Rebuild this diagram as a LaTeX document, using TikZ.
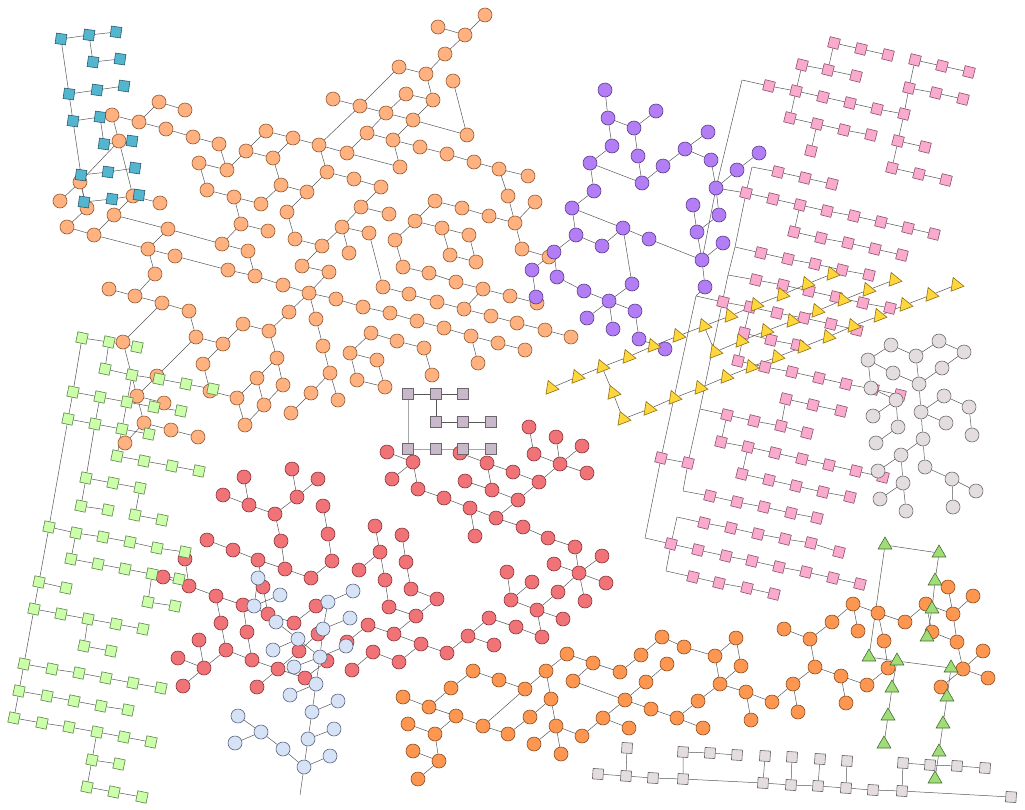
\documentclass[tikz,border=0pt]{standalone}
\usetikzlibrary{shapes.geometric,backgrounds}
\definecolor{peachF}{RGB}{255,178,127}\definecolor{peachD}{RGB}{150,90,50}
\definecolor{tealF}{RGB}{84,182,206}\definecolor{tealD}{RGB}{40,90,110}
\definecolor{purpF}{RGB}{178,125,245}\definecolor{purpD}{RGB}{90,60,140}
\definecolor{pinkF}{RGB}{250,170,205}\definecolor{pinkD}{RGB}{140,80,110}
\definecolor{yelF}{RGB}{255,215,60}\definecolor{yelD}{RGB}{140,110,20}
\definecolor{greyF}{RGB}{228,221,224}\definecolor{greyD}{RGB}{110,105,108}
\definecolor{redF}{RGB}{240,115,120}\definecolor{redD}{RGB}{140,50,55}
\definecolor{blueF}{RGB}{214,226,245}\definecolor{blueD}{RGB}{90,100,130}
\definecolor{orngF}{RGB}{252,150,80}\definecolor{orngD}{RGB}{140,75,30}
\definecolor{gtriF}{RGB}{160,220,120}\definecolor{gtriD}{RGB}{70,110,50}
\definecolor{lgrF}{RGB}{204,255,170}\definecolor{lgrD}{RGB}{90,130,70}
\definecolor{mauveF}{RGB}{200,185,200}\definecolor{mauveD}{RGB}{110,100,110}
\begin{document}
\begin{tikzpicture}[x=1pt,y=-1pt,
  dot/.style={circle,inner sep=0pt,minimum size=14pt,line width=0.6pt},
  box/.style={rectangle,inner sep=0pt,minimum size=10.5pt,line width=0.6pt},
  tri/.style={regular polygon,regular polygon sides=3,inner sep=0pt,minimum size=16pt,line width=0.6pt},
  peach/.style={dot,draw=peachD,fill=peachF},
  redc/.style={dot,draw=redD,fill=redF},
  bluec/.style={dot,draw=blueD,fill=blueF},
  purpc/.style={dot,draw=purpD,fill=purpF},
  greyc/.style={dot,draw=greyD,fill=greyF},
  orngc/.style={dot,draw=orngD,fill=orngF},
  tealsq/.style={box,draw=tealD,fill=tealF,rotate=-8},
  pinksq/.style={box,draw=pinkD,fill=pinkF,rotate=-14},
  lgrsq/.style={box,draw=lgrD,fill=lgrF,rotate=-12},
  greysq/.style={box,draw=greyD,fill=greyF,rotate=-4},
  mauvesq/.style={box,draw=mauveD,fill=mauveF},
  yeltri/.style={tri,draw=yelD,fill=yelF,shape border rotate=21},
  grntri/.style={tri,draw=gtriD,fill=gtriF},
  link/.style={draw=black!66,line width=0.5pt},
  palelink/.style={draw=black!35,line width=0.9pt}]
\useasboundingbox (0,0) rectangle (1025,809);

\foreach \n/\x/\y in {1/112/115, 2/159/102, 3/185/110, 4/139/122, 5/166/129, 6/193/137, 7/219/144, 8/119/141, 9/199/163, 10/227/170, 11/246/151, 12/266/131, 13/293/138, 14/273/158, 15/319/145, 16/333/99, 17/327/172, 18/207/190, 19/234/197, 20/261/204, 21/281/185, 22/307/192, 23/287/212, 24/80/182, 25/60/201, 26/87/208, 27/133/196, 28/160/203, 29/114/215, 30/67/227, 31/94/235, 32/168/229, 33/241/224, 34/268/231, 35/222/244, 36/248/251, 37/295/239, 38/322/246, 39/148/249, 40/175/256, 41/228/270, 42/255/276, 43/155/274, 44/302/266, 45/329/272, 46/342/227,
  50/485/15, 51/438/27, 52/465/35, 53/445/54, 54/399/67, 55/426/74, 56/453/81, 57/406/94, 58/433/100, 59/360/106, 60/386/113, 61/413/120, 62/467/135, 63/367/133, 64/393/140, 65/420/147, 66/447/154, 67/474/162, 68/499/169, 69/528/176, 70/347/153, 71/400/167, 72/354/179, 73/381/187, 74/508/196, 75/535/202, 76/361/207, 77/389/214, 78/435/201, 79/462/208, 80/489/216, 81/515/223, 82/369/233, 83/415/221, 84/442/228, 85/469/235, 86/349/253, 87/395/240, 88/522/249, 89/549/257, 90/403/267, 91/429/273, 92/450/255, 93/476/262,
  100/109/289, 101/135/296, 102/162/303, 103/189/311, 104/196/337, 105/223/344, 106/243/324, 107/269/331, 108/283/285, 109/309/293, 110/336/299, 111/289/312, 112/316/319, 113/323/346, 114/330/373, 115/311/393, 116/291/413, 117/338/400, 118/277/358, 119/283/385, 120/257/378, 121/264/405, 122/237/398, 123/245/425, 124/203/364, 125/210/391, 126/123/342, 127/157/376, 128/137/396, 129/164/403, 130/144/423, 131/171/430, 132/198/437, 133/125/443,
  140/383/287, 141/456/282, 142/483/289, 143/510/296, 144/537/303, 145/409/294, 146/437/302, 147/464/309, 148/491/316, 149/517/323, 150/545/330, 151/571/337, 152/363/307, 153/390/313, 154/417/321, 155/444/328, 156/471/336, 157/498/343, 158/525/350, 159/478/363, 160/371/333, 161/397/341, 162/424/348, 163/432/375, 164/350/353, 165/377/360, 166/357/380, 167/385/387}
  \node[peach] (p\n) at (\x,\y) {};

\foreach \n/\x/\y in {1/244/477, 2/223/495, 3/249/505, 4/292/469, 5/318/479, 6/297/497, 7/275/514, 8/323/506, 9/328/534, 10/281/541, 11/207/540, 13/233/550, 14/258/560, 16/285/569, 17/311/578, 18/332/561, 20/185/559, 21/163/577, 22/189/586, 23/216/596, 24/263/587, 25/243/605, 26/268/614, 27/221/623, 28/247/632, 29/294/623, 30/316/606, 31/199/640, 32/226/650, 33/299/651, 34/318/634, 35/178/658, 36/204/668, 37/252/660, 38/278/669, 39/327/661, 40/305/678, 41/183/686, 42/257/687,
  43/380/552, 45/406/562, 46/359/570, 47/385/580, 48/411/589, 49/437/599, 50/389/607, 51/416/616, 52/368/625, 53/394/634, 54/421/644, 55/347/642, 56/373/652, 57/399/662, 58/352/670, 59/447/653, 60/468/636, 61/489/618, 62/516/627, 63/494/645, 64/542/637, 65/507/572, 66/532/582, 67/511/600, 68/537/610, 69/563/619, 70/558/592, 71/579/573, 72/554/564, 73/575/547, 74/548/538, 75/602/556, 76/606/583, 77/585/601,
  78/387/452, 79/413/462, 80/392/479, 81/418/489, 82/444/498, 83/470/508, 84/496/518, 85/475/536, 86/523/527, 89/460/453, 90/487/463, 91/513/472, 92/539/482, 93/465/481, 94/492/490, 95/518/500, 96/529/427, 97/534/454, 98/560/464, 99/556/437, 100/582/446, 101/587/473, 102/375/526, 103/402/535}
  \node[redc] (r\n) at (\x,\y) {};

\foreach \n/\x/\y in {1/258/578, 2/280/595, 3/254/606, 4/276/622, 5/298/639, 6/273/650, 7/328/602, 8/323/629, 9/320/657, 10/294/667, 11/316/684, 12/290/695, 13/338/701, 14/312/712, 15/334/729, 16/308/739, 17/330/756, 18/304/767, 19/238/716, 20/261/732, 21/235/743, 22/283/749, 23/353/591, 24/350/618, 25/346/646}
  \node[bluec] (b\n) at (\x,\y) {};
\coordinate (bx) at (300,795);

\foreach \n/\x/\y in {1/408/394, 2/436/394, 3/463/394, 4/436/422, 5/463/422, 6/491/422, 7/408/449, 8/436/449, 9/463/449, 10/491/449}
  \node[mauvesq] (s\n) at (\x,\y) {};

\foreach \n/\x/\y in {1/61/39, 2/89/35, 3/116/32, 4/93/62, 5/120/59, 6/69/94, 7/97/90, 8/124/86, 9/73/121, 10/100/117, 11/104/144, 12/132/141, 13/81/175, 14/108/172, 15/135/168, 16/84/202, 17/112/199, 18/139/195}
  \node[tealsq] (t\n) at (\x,\y) {};

\foreach \n/\x/\y in {1/82/338, 2/109/342, 3/137/347, 4/105/369, 5/132/375, 6/159/379, 7/186/384, 8/213/389, 9/73/392, 10/100/397, 11/127/402, 12/154/407, 13/181/411, 14/68/419, 15/95/424, 16/122/429, 17/149/434, 18/117/456, 19/144/461, 20/172/466, 21/199/471, 22/86/478, 23/113/483, 24/140/488, 25/81/506, 26/108/510, 27/135/515, 28/162/520, 29/49/527, 30/76/533, 31/103/537, 32/130/542, 36/157/548, 37/185/552, 38/71/559, 39/98/564, 40/125/569, 41/152/574, 42/179/579, 43/39/582, 44/66/588, 45/148/602, 46/175/606, 47/34/609, 48/61/614, 49/88/619, 50/116/624, 51/143/629, 52/84/646, 53/111/651, 54/24/664, 55/52/669, 56/79/673, 57/106/678, 58/133/683, 59/161/688, 60/19/691, 61/47/696, 62/74/701, 63/101/706, 64/128/710, 65/14/718, 66/42/723, 67/69/727, 68/97/732, 69/124/737, 70/151/742, 71/92/760, 72/119/764, 73/87/787, 74/114/792, 75/142/797}
  \node[lgrsq] (l\n) at (\x,\y) {};

\foreach \n/\x/\y in {1/605/90, 2/608/118, 3/656/111, 4/634/128, 5/612/146, 6/638/156, 7/590/163, 8/663/166, 9/685/149, 10/642/183, 11/594/191, 12/572/208, 13/623/228, 14/649/239, 15/576/235, 16/602/246, 17/554/252, 18/532/270, 19/557/277, 20/708/132, 21/711/160, 22/759/153, 23/737/170, 24/716/188, 25/693/205, 26/719/215, 27/697/232, 28/723/243, 29/702/260, 30/536/297, 31/584/291, 32/609/301, 33/632/284, 34/587/318, 35/613/329, 36/635/311, 37/639/339, 38/665/349, 39/705/287}
  \node[purpc] (u\n) at (\x,\y) {};

\foreach \n/\x/\y in {k1/834/43, k2/861/49, k3/888/55, k4/802/65, k5/828/70, k6/856/76, k7/769/86, k8/796/91, k9/823/97, k10/850/103, k11/877/109, k12/904/114, k13/790/118, k14/817/124, k15/844/130, k16/871/135, k17/811/151, k18/915/60, k19/942/66, k20/969/72, k21/909/88, k22/936/93, k23/963/99, k24/898/141, k25/925/147, k26/892/168, k27/919/174, k28/946/180, k29/778/172, k30/805/178, k31/832/184, k32/746/193, k33/773/199, k34/800/205, k35/827/211, k36/854/216, k37/881/222, k38/908/228, k39/934/234, k40/794/232, k41/821/238, k42/848/243, k43/875/249, k44/902/255, k45/761/253, k46/788/259, k47/815/264, k48/842/270, k49/869/275,
  m1/756/280, m2/783/285, m3/809/291, m4/836/297, m13/863/303, m14/890/308, m7/723/302, m8/750/307, m9/777/313, m10/804/318, m11/831/324, m12/857/330, m15/744/333, m16/771/340, m17/797/345, m18/738/361, m19/765/367, m20/792/372, m21/819/378, m22/846/384, m23/873/389, m24/900/395, m25/786/399, m26/813/405, m27/841/411, m28/727/415, m29/754/421, m30/781/426, m31/807/433, m32/721/442, m33/748/447, m34/775/453, m35/802/459, m36/829/465, m37/856/471, m38/883/477, m39/742/474, m40/769/480, m41/796/486, m42/823/492, m43/850/497, m44/688/463, m45/710/496, m46/737/502, m47/764/507, m48/791/513, m49/817/518, m50/704/523, m51/731/528, m52/758/534, m53/785/539, m54/811/543, m55/839/552, m56/661/458, m57/671/544, m58/698/550, m59/726/556, m60/752/561, m61/779/567, m62/806/572, m63/833/578, m64/860/584, m65/693/577, m66/719/583, m67/747/588, m68/774/594}
  \node[pinksq] (\n) at (\x,\y) {};
\foreach \n/\x/\y in {c1/742/80, c2/752/167, c3/735/247, c5/728/275, c6/700/409, c7/677/517, c9/683/491, j1/696/296, c4/645/538, c8/666/571}
  \coordinate (\n) at (\x,\y);

\foreach \n/\x/\y in {1/551/388, 2/577/377, 3/602/367, 4/628/357, 5/653/346, 6/678/336, 7/613/393, 8/623/419, 9/649/409, 10/674/398, 12/704/326, 13/730/316, 14/756/305, 15/782/295, 16/807/284, 17/832/274, 18/715/352, 19/741/341, 20/766/331, 21/792/321, 22/817/311, 23/843/300, 24/868/290, 25/894/280, 26/700/388, 27/726/377, 28/751/367, 29/777/357, 30/803/347, 31/828/337, 32/853/326, 33/879/316, 34/905/305, 35/931/295, 36/956/285}
  \node[yeltri] (y\n) at (\x,\y) {};

\foreach \n/\x/\y in {1/891/345, 2/868/360, 3/916/356, 4/939/341, 5/964/352, 6/893/373, 7/942/368, 8/919/384, 9/871/388, 10/896/400, 11/873/416, 12/921/412, 13/944/396, 14/969/407, 15/946/423, 16/972/435, 17/898/427, 18/876/443, 19/923/439, 20/901/455, 21/878/471, 22/925/467, 23/903/483, 24/880/499, 25/952/479, 26/976/491, 27/906/511, 28/953/507}
  \node[greyc] (g\n) at (\x,\y) {};

\foreach \n/\x/\y in {1/403/697, 2/429/707, 3/451/688, 4/473/671, 5/499/680, 6/525/689, 7/546/671, 8/567/654, 9/593/663, 10/620/672, 11/641/655, 12/662/637, 13/684/647, 14/573/681, 15/646/682, 16/667/664, 17/625/700, 18/651/709, 19/677/718, 20/603/718, 21/629/728, 22/582/736, 23/551/699, 24/556/726, 25/534/744, 26/561/754, 27/530/717, 28/508/734, 29/483/726, 30/456/716, 31/435/734, 32/408/724, 33/413/751, 34/439/761, 35/418/779, 37/715/656, 38/736/638, 39/741/666, 40/720/684, 41/746/692, 42/698/701, 44/703/728, 45/751/720, 46/772/702, 47/793/684, 48/798/712, 49/815/667, 50/810/639, 51/784/629, 52/832/622, 53/853/604, 54/858/631, 55/878/613, 56/884/641, 57/905/622, 58/841/676, 59/846/703, 60/867/685, 61/888/668, 62/926/604, 63/932/632, 64/953/614, 65/948/587, 66/973/596, 67/957/642, 68/963/669, 69/983/651, 70/988/678, 71/941/687}
  \node[orngc] (o\n) at (\x,\y) {};

\foreach \n/\x/\y in {1/885/545, 2/939/553, 3/935/581, 4/932/609, 5/927/637, 6/869/657, 7/897/661, 8/951/668, 9/892/688, 10/947/697, 11/888/716, 12/943/724, 13/884/744, 14/939/752, 15/935/779}
  \node[grntri] (gt\n) at (\x,\y) {};

\foreach \n/\x/\y in {1/683/752, 2/710/753, 3/737/755, 4/683/779, 5/765/756, 6/763/783, 7/792/757, 8/791/785, 9/820/759, 10/818/786, 11/847/761, 12/846/788, 13/873/790, 14/902/791, 15/903/763, 16/930/765, 17/957/766, 18/985/768, 19/1011/797, 20/627/748, 21/598/774, 22/626/776, 23/653/778}
  \node[greysq] (q\n) at (\x,\y) {};

\begin{scope}[on background layer]
\foreach \a/\b in {p1/p4, p4/p2, p2/p3, p4/p5, p5/p6, p6/p7, p7/p10, p9/p10, p10/p11, p11/p12, p12/p13, p11/p14, p13/p14, p13/p15, p15/p17, p14/p21, p21/p22, p22/p23, p21/p20, p20/p19, p19/p18, p18/p9, p19/p33, p33/p34, p33/p35, p35/p36, p23/p37, p37/p38, p38/p44, p44/p45, p38/p46, p22/p17, p36/p42, p1/p8, p8/p27, p25/p24, p24/p8, p24/p26, p27/p28, p27/p29, p26/p30, p29/p31, p30/p31, p31/p39, p39/p40, p40/p41, p41/p42, p29/p32, p32/p35, p32/p39, p39/p43,
  p50/p52, p51/p52, p52/p53, p53/p55, p54/p55, p55/p58, p58/p61, p56/p62, p54/p59, p59/p15, p59/p16, p59/p60, p60/p61, p61/p62, p57/p58, p57/p60, p63/p60, p64/p61, p15/p70, p70/p63, p63/p64, p64/p65, p65/p66, p66/p67, p67/p68, p68/p69, p64/p71, p70/p71, p68/p74, p74/p81, p78/p79, p79/p80, p80/p81, p81/p75, p81/p88, p88/p89, p78/p83, p83/p84, p84/p85, p84/p92, p92/p93, p93/p85, p83/p87, p87/p90, p90/p91, p46/p82, p46/p76, p76/p77, p17/p72, p72/p73, p73/p76, p46/p86, p82/p140,
  p43/p101, p100/p101, p101/p102, p102/p103, p103/p104, p104/p105, p105/p106, p106/p107, p107/p111, p111/p109, p109/p45, p109/p108, p108/p42, p109/p110, p109/p112, p112/p113, p113/p114, p114/p115, p115/p116, p114/p117, p107/p118, p118/p120, p120/p122, p118/p119, p119/p121, p120/p121, p122/p123, p123/p121, p105/p124, p124/p125, p125/p122, p102/p126, p126/p128, p104/p127, p127/p128, p128/p129, p128/p130, p130/p131, p131/p132, p130/p133,
  p91/p141, p141/p142, p142/p143, p143/p144, p140/p145, p145/p146, p146/p147, p147/p148, p148/p149, p149/p150, p150/p151, p142/p147, p110/p152, p152/p153, p153/p154, p154/p155, p155/p156, p156/p157, p157/p158, p156/p159, p160/p161, p161/p162, p162/p163, p160/p164, p164/p165, p164/p166, p166/p167, p165/p167,
  r1/r3, r2/r3, r3/r7, r7/r6, r6/r4, r6/r5, r7/r10, r8/r9, r11/r13, r13/r14, r14/r16, r10/r16, r16/r17, r17/r18, r18/r9, r20/r22, r21/r22, r22/r23, r23/r25, r23/r27, r27/r32, r25/r28, r28/r37, r32/r37, r37/r38, r32/r36, r31/r36, r35/r36, r36/r41, r38/r42, r38/r40, r38/r33, r33/r34, r14/r24, r24/r26, r26/r29, r29/r30, r39/r40,
  r102/r43, r43/r46, r43/r47, r47/r50, r50/r51, r103/r45, r45/r48, r48/r49, r51/r49, r51/r53, r52/r53, r53/r54, r54/r59, r57/r54, r56/r57, r56/r58, r52/r55, r59/r60, r60/r61, r61/r62, r60/r63, r62/r64, r65/r67, r66/r67, r67/r68, r68/r69, r68/r64, r68/r70, r70/r71, r71/r72, r71/r73, r71/r75, r71/r76, r71/r77, r74/r73,
  r78/r79, r79/r80, r79/r81, r81/r82, r82/r83, r83/r84, r83/r85, r84/r86, r86/r74, r89/r90, r90/r91, r91/r92, r90/r94, r93/r94, r94/r95, r95/r92, r92/r98, r97/r98, r96/r97, r98/r99, r98/r100, r98/r101, r95/r84,
  b1/b3, b3/b2, b3/b4, b4/b5, b5/b6, b5/b9, b7/b8, b8/b9, b9/b10, b9/b11, b11/b12, b11/b14, b13/b14, b14/b16, b15/b16, b16/b18, b17/b18, b19/b20, b20/b21, b20/b22, b22/b18, b18/bx, b7/b23, b8/b24, b9/b25,
  s1/s2, s2/s3, s2/s4, s4/s5, s5/s6,
  t1/t2, t2/t3, t2/t4, t4/t5, t1/t6, t6/t7, t7/t8, t6/t9, t9/t10, t10/t11, t11/t12, t9/t13, t13/t14, t14/t15, t13/t16, t16/t17, t17/t18,
  l1/l2, l2/l3, l2/l4, l4/l5, l5/l6, l6/l7, l7/l8, l1/l9, l9/l10, l10/l11, l11/l12, l12/l13, l9/l14, l14/l15, l15/l16, l16/l17, l5/l11, l11/l16, l16/l18, l10/l15, l15/l22, l22/l25, l18/l19, l19/l20, l20/l21, l22/l23, l23/l24, l24/l27, l25/l26, l27/l28, l14/l29, l29/l30, l30/l31, l31/l32, l32/l36, l36/l37, l30/l38, l38/l39, l39/l40, l40/l41, l41/l42, l41/l45, l45/l46, l29/l43, l43/l44, l43/l47, l47/l48, l48/l49, l49/l50, l50/l51, l49/l52, l52/l53, l47/l54, l54/l55, l55/l56, l56/l57, l57/l58, l58/l59, l54/l60, l60/l61, l61/l62, l62/l63, l63/l64, l60/l65, l65/l66, l66/l67, l67/l68, l68/l69, l69/l70, l68/l71, l71/l72, l71/l73, l73/l74, l74/l75,
  u1/u2, u2/u4, u4/u3, u2/u5, u4/u6, u6/u10, u5/u7, u7/u10, u10/u8, u8/u9, u7/u11, u11/u12, u12/u13, u13/u14, u14/u29, u12/u15, u15/u16, u16/u13, u15/u17, u17/u18, u17/u19, u18/u30, u19/u31, u31/u32, u32/u33, u32/u34, u32/u35, u32/u36, u36/u37, u37/u38, u13/u33, u20/u9, u9/u21, u21/u24, u22/u23, u23/u24, u24/u26, u26/u27, u25/u27, u27/u29, u28/u29, u24/u29, u29/u39,
  c1/k7, k7/k8, k8/k9, k9/k10, k10/k11, k11/k12, k4/k8, k4/k5, k5/k6, k1/k5, k1/k2, k2/k3, k8/k13, k13/k14, k14/k15, k15/k16, k14/k17, k18/k19, k19/k20, k18/k21, k21/k22, k22/k23, k21/k12, k12/k24, k24/k25, k24/k26, k26/k27, k27/k28,
  c2/k29, k29/k30, k30/k31, c2/k32, u24/k32, k32/k33, k33/k34, k34/k35, k35/k36, k36/k37, k37/k38, k38/k39, k34/k40, k40/k41, k41/k42, k42/k43, k43/k44, k32/c3, c3/k45, k45/k46, k46/k47, k47/k48, k48/k49,
  c1/u24, u39/j1, j1/m56, m56/m44, m56/c4, c4/m57, m57/c8, c8/m65, m65/m66, m66/m67, m67/m68, m57/m58, m58/m59, m59/m60, m60/m61, m61/m62, m62/m63, m63/m64,
  j1/m7, m7/m8, m8/m9, m9/m10, m10/m11, m11/m12, m8/m15, m15/m16, m16/m17, m15/m18, m18/m19, m19/m20, m20/m21, m21/m22, m22/m23, m23/m24,
  c3/c5, c5/m1, m1/m2, m2/m3, m3/m4, m4/m13, m13/m14, c5/c6, c6/m28, m28/m29, m29/m30, m30/m31, m30/m25, m25/m26, m26/m27, m28/m32, m32/m33, m33/m34, m34/m35, m35/m36, m36/m37, m37/m38, m33/m39, m39/m40, m40/m41, m41/m42, m42/m43, c6/m44, m44/c9, c9/m45, m45/m46, m46/m47, m47/m48, m48/m49, c7/m57, c7/m50, m50/m51, m51/m52, m52/m53, m53/m54, m54/m55,
  y1/y2, y2/y3, y3/y4, y4/y5, y5/y6, y3/y7, y7/y8, y8/y9, y9/y10, y6/y12, y12/y13, y13/y14, y14/y15, y15/y16, y16/y17, y12/y18, y18/y19, y19/y20, y20/y21, y21/y22, y22/y23, y23/y24, y24/y25, y10/y26, y26/y27, y27/y28, y28/y29, y29/y30, y30/y31, y31/y32, y32/y33, y33/y34, y34/y35, y35/y36,
  g2/g1, g1/g3, g3/g4, g4/g5, g2/g6, g6/g8, g3/g8, g5/g7, g7/g8, g2/g9, g9/g10, g10/g11, g10/g17, g8/g12, g12/g13, g13/g14, g14/g16, g12/g15, g12/g19, g17/g18, g19/g20, g20/g21, g20/g23, g19/g22, g22/g25, g25/g26, g25/g28, g23/g24, g23/g27,
  o1/o2, o2/o3, o3/o4, o4/o5, o5/o6, o6/o7, o7/o8, o8/o9, o9/o10, o10/o11, o11/o12, o12/o13, o9/o14, o14/o17, o17/o15, o15/o16, o17/o18, o18/o19, o17/o20, o20/o21, o20/o22, o7/o23, o23/o27, o27/o28, o23/o24, o24/o22, o24/o25, o24/o26, o6/o29, o29/o28, o30/o29, o2/o30, o30/o31, o31/o32, o31/o34, o33/o34, o34/o35, o13/o37, o37/o38, o38/o39, o37/o40, o39/o40, o40/o41, o40/o42, o42/o19, o19/o44, o41/o45, o41/o46, o46/o47, o47/o48, o47/o49, o49/o50, o51/o50, o50/o52, o52/o53, o53/o54, o53/o55, o55/o56, o55/o57, o57/o62, o62/o64, o62/o63, o65/o64, o64/o66, o64/o67, o63/o67, o67/o68, o68/o69, o68/o70, o68/o71, o49/o58, o58/o59, o58/o60, o60/o61, o61/o56,
  gt1/gt2, gt2/gt3, gt3/gt4, gt4/gt5, gt1/gt6, gt6/gt7, gt7/gt8, gt7/gt9, gt9/gt11, gt11/gt13, gt8/gt10, gt10/gt12, gt12/gt14, gt14/gt15,
  q21/q22, q22/q23, q23/q4, q4/q6, q6/q8, q8/q10, q10/q12, q12/q13, q13/q14, q14/q19, q20/q22, q1/q4, q1/q2, q2/q3, q5/q6, q7/q8, q9/q10, q11/q12, q15/q14, q15/q16, q16/q17, q17/q18}
  \draw[link] (\a) -- (\b);
\foreach \a/\b in {s1/s7, s7/s8, s8/s9, s9/s10}
  \draw[palelink] (\a) -- (\b);
\end{scope}
\end{tikzpicture}
\end{document}
